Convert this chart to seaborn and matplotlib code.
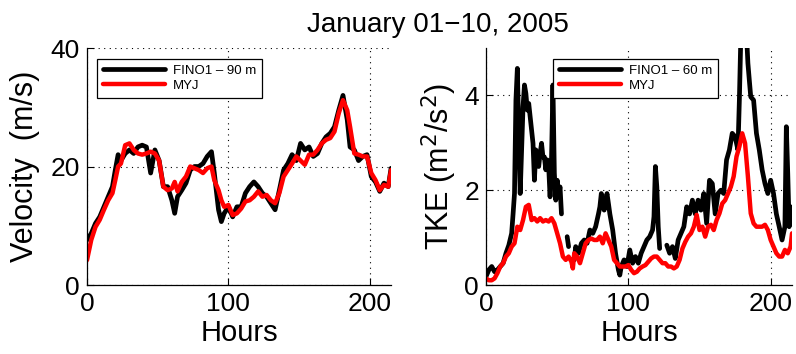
import numpy as np
import pandas as pd
import seaborn as sns
import matplotlib
matplotlib.use('Agg')
import matplotlib.pyplot as plt

# wind speed (m/s), every ~3 hours
vel_hours = [0, 3, 6, 9, 12, 15, 18, 20, 22, 24, 27, 30, 33, 36, 39, 42, 45, 48, 51, 54,
             57, 60, 62, 64, 67, 70, 73, 76, 79, 82, 85, 88, 90, 93, 95, 97, 100, 103, 106, 109,
             112, 115, 118, 121, 124, 127, 130, 133, 136, 139, 142, 145, 148, 151, 154, 157, 160, 163, 166, 169,
             172, 175, 178, 181, 184, 186, 189, 192, 195, 198, 201, 204, 207, 210, 213, 215]
vel_obs = [7.6, 8.7, 10.4, 11.5, 13.2, 14.9, 16.6, 19.4, 22.0, 21.0, 22.2, 22.8, 22.2, 23.3, 23.6, 23.3, 18.9, 22.8, 21.0, 16.6,
           16.6, 14.3, 12.1, 14.9, 16.0, 17.2, 19.4, 20.0, 20.0, 20.5, 21.7, 22.5, 18.9, 12.7, 10.7, 12.1, 13.2, 11.5, 13.2, 13.2,
           15.5, 16.6, 17.4, 16.6, 15.5, 14.9, 13.8, 12.7, 16.0, 19.4, 20.5, 22.0, 21.0, 23.9, 22.8, 23.3, 21.7, 22.2, 23.9, 25.0,
           25.6, 26.7, 29.5, 32.0, 27.9, 23.3, 22.8, 21.0, 21.7, 22.0, 18.3, 17.4, 15.8, 17.2, 16.6, 19.7]
vel_myj = [4.2, 7.6, 9.8, 11.0, 12.7, 14.3, 15.5, 17.7, 20.0, 20.5, 23.6, 23.9, 22.8, 22.2, 22.0, 22.2, 22.5, 22.2, 21.0, 16.6,
           16.0, 16.3, 17.4, 15.8, 17.4, 18.3, 20.0, 19.7, 19.4, 18.9, 19.7, 20.0, 17.7, 16.0, 14.3, 13.2, 13.5, 11.8, 12.1, 12.9,
           14.1, 14.3, 14.9, 15.8, 14.9, 15.2, 14.3, 13.8, 15.5, 18.3, 19.4, 20.5, 21.7, 21.0, 20.3, 22.0, 22.0, 22.8, 23.9, 24.5,
           24.8, 25.9, 29.0, 31.2, 29.5, 26.7, 22.2, 22.0, 21.7, 21.7, 18.9, 17.7, 16.0, 16.9, 16.6, 19.4]

# TKE observations (m2/s2), NaN = missing data
tke_obs_hours = [0, 2, 4, 6, 8, 10, 12, 14, 16, 18, 19, 20, 21, 22, 23, 24, 25, 26, 27, 28,
                 29, 30, 31, 32, 33, 34, 35, 36, 37, 38, 39, 40, 41, 42, 43, 44, 45, 46, 47, 48,
                 49, 50, 51, 52, 53, 55, 57, 58, 60, 62, 63, 65, 67, 69, 71, 73, 75, 77, 79, 80,
                 81, 82, 83, 84, 85, 86, 87, 89, 91, 93, 94, 95, 97, 99, 101, 103, 105, 107, 109, 111,
                 113, 115, 117, 118, 119, 120, 121, 122, 124, 127, 129, 131, 133, 135, 137, 139, 141, 143, 145, 147,
                 149, 151, 153, 155, 157, 159, 161, 163, 165, 167, 169, 171, 173, 175, 177, 178, 179, 181, 183, 184,
                 185, 186, 188, 190, 192, 194, 196, 198, 200, 202, 204, 206, 208, 210, 211, 212, 213, 214, 215]
tke_obs = [0.18, 0.32, 0.39, 0.28, 0.32, 0.39, 0.46, 0.67, 0.84, 1.09, 1.5, 1.93, 3.9, 4.57, 3.2, 1.93, 2.85, 3.76, 4.22, 4.04,
           3.69, 3.83, 3.55, 3.27, 2.99, 2.21, 2.85, 2.7, 2.5, 2.78, 2.99, 2.7, 2.7, 2.43, 2.64, 2.5, 1.86, 2.64, 4.22, 2.36,
           1.79, 2.21, 1.93, 2.07, 1.5, np.nan, 1.02, 0.81, np.nan, 0.53, 0.81, 0.67, 0.88, 0.95, 0.88, 1.16, 1.09, 1.23, 1.5, 1.65,
           1.93, 1.72, 1.58, 1.79, 1.93, 1.72, 1.5, 1.16, 0.67, 0.32, 0.21, 0.39, 0.53, 0.39, 0.74, 0.46, 0.6, 0.46, 0.67, 0.81,
           0.95, 1.02, 1.16, 1.44, 2.5, 2.07, 1.23, 0.77, np.nan, 0.84, 0.67, 0.81, 0.56, 0.95, 1.09, 1.23, 1.65, 1.5, 1.79, 1.5,
           1.79, 1.58, 1.93, 1.3, 2.21, 2.14, 1.5, 1.93, 2.0, 1.93, 2.64, 2.85, 3.2, 3.13, 2.85, 3.9, 5.2, 5.6, 5.3, 4.68,
           4.32, 3.97, 3.9, 3.2, 2.85, 2.43, 2.14, 1.93, 2.21, 1.93, 1.5, 1.23, 0.95, 1.23, 3.34, 2.36, 1.23, 1.65, 1.44]

# TKE from MYJ run, every 2 hours
tke_myj_hours = [0, 2, 4, 6, 8, 10, 12, 14, 16, 18, 20, 22, 24, 26, 28, 30, 32, 34, 36, 38,
                 40, 42, 44, 46, 48, 50, 52, 54, 56, 58, 60, 61, 62, 64, 66, 68, 70, 72, 74, 76,
                 78, 80, 82, 84, 86, 88, 90, 92, 94, 96, 98, 100, 102, 104, 106, 108, 110, 112, 114, 116,
                 118, 120, 122, 124, 126, 128, 130, 132, 134, 136, 138, 140, 142, 144, 146, 148, 150, 152, 154, 156,
                 158, 160, 162, 164, 166, 168, 170, 172, 174, 176, 178, 180, 182, 184, 186, 188, 190, 192, 194, 196,
                 198, 200, 202, 204, 206, 208, 210, 212, 214, 215]
tke_myj = [0.14, 0.1, 0.1, 0.14, 0.25, 0.39, 0.46, 0.6, 0.67, 0.81, 0.88, 1.23, 1.16, 1.37, 1.65, 1.69, 1.37, 1.41, 1.34, 1.41,
           1.34, 1.37, 1.34, 1.41, 1.3, 1.09, 0.88, 0.6, 0.53, 0.6, 0.49, 0.35, 0.67, 0.6, 0.46, 0.67, 0.88, 0.95, 0.98, 0.95,
           0.95, 1.02, 0.88, 1.09, 0.95, 0.81, 0.53, 0.46, 0.39, 0.39, 0.39, 0.42, 0.32, 0.25, 0.28, 0.35, 0.39, 0.42, 0.49, 0.56,
           0.6, 0.6, 0.53, 0.46, 0.46, 0.39, 0.39, 0.35, 0.39, 0.53, 0.77, 0.91, 1.02, 1.09, 1.23, 1.48, 1.16, 1.23, 1.02, 1.23,
           1.27, 1.16, 1.37, 1.51, 1.72, 1.79, 1.93, 2.07, 2.29, 2.71, 2.92, 3.2, 2.99, 2.29, 1.51, 1.3, 1.23, 1.23, 1.23, 1.27,
           1.16, 0.95, 0.81, 0.67, 0.6, 0.6, 0.74, 0.67, 0.81, 1.09]

sns.set_style('white')
plt.rcParams['font.family'] = ['Liberation Sans', 'DejaVu Sans']
plt.rcParams['text.color'] = 'black'
plt.rcParams['axes.labelcolor'] = 'black'

fig = plt.figure(figsize=(7.96, 3.54), dpi=100)
ax1 = fig.add_axes([0.1093, 0.1949, 0.382, 0.6695])
ax2 = fig.add_axes([0.6106, 0.1949, 0.3844, 0.6695])


def draw_obs(ax, hours, vals, label):
    # split at NaN so gaps in the record stay visible
    df = pd.DataFrame({'Hours': hours, 'val': vals})
    seg = df['val'].isna().cumsum()
    first = True
    for _, part in df.dropna().groupby(seg[df['val'].notna()]):
        sns.lineplot(data=part, x='Hours', y='val', ax=ax, color='black', lw=3.4,
                     label=label if first else None, estimator=None, sort=False)
        first = False


draw_obs(ax1, vel_hours, vel_obs, 'FINO1 \u2013 90 m')
sns.lineplot(x=vel_hours, y=vel_myj, ax=ax1, color='red', lw=3.2, label='MYJ')
draw_obs(ax2, tke_obs_hours, tke_obs, 'FINO1 \u2013 60 m')
sns.lineplot(x=tke_myj_hours, y=tke_myj, ax=ax2, color='red', lw=3.2, label='MYJ')

ax1.set_ylim(0, 40)
ax1.set_yticks([0, 20, 40])
ax2.set_ylim(0, 5)
ax2.set_yticks([0, 2, 4])
ax1.set_ylabel('Velocity  (m/s)', fontsize=22, labelpad=8)
ax2.set_ylabel('TKE (m$^2$/s$^2$)', fontsize=22, labelpad=4)

for ax, lx in [(ax1, 0.033), (ax2, 0.219)]:
    ax.set_xlim(0, 215)
    ax.set_xticks([0, 100, 200])
    ax.set_xlabel('Hours', fontsize=21, labelpad=2)
    ax.grid(True, color='black', linestyle=(0, (1, 4)), lw=0.8)
    ax.tick_params(direction='in', length=5, width=0.8, labelsize=19, pad=5,
                   bottom=True, left=True, colors='black')
    ax.spines['top'].set_visible(False)
    ax.spines['right'].set_visible(False)
    for s in ['left', 'bottom']:
        ax.spines[s].set_color('black')
        ax.spines[s].set_linewidth(0.9)
    leg = ax.legend(loc='upper left', bbox_to_anchor=(lx, 0.955), borderaxespad=0,
                    fontsize=9.5, frameon=True, fancybox=False, edgecolor='black',
                    framealpha=1, handlelength=4.7, handletextpad=0.6,
                    labelspacing=0.2, borderpad=0.45)
    leg.get_frame().set_linewidth(0.9)

fig.text(0.55, 1 - 32 / 354, 'January 01\u221210, 2005', ha='center', va='baseline', fontsize=20)

fig.savefig('out.png', dpi=100)
